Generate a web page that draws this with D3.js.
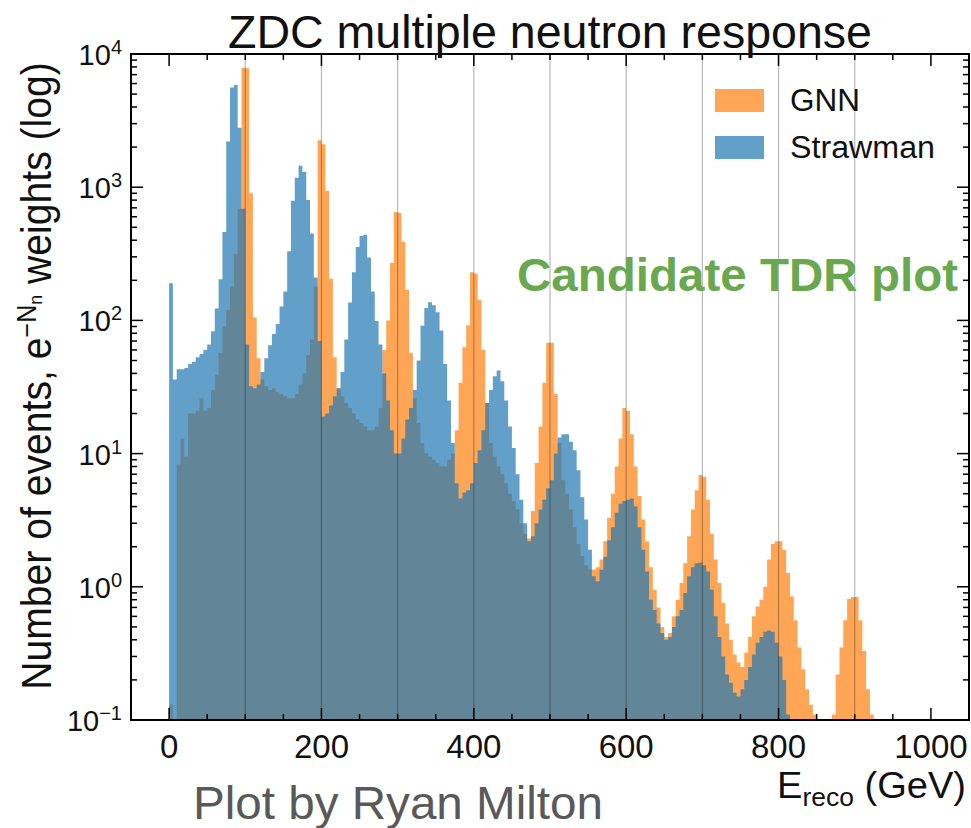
<!DOCTYPE html>
<html><head><meta charset="utf-8">
<script src="https://cdn.jsdelivr.net/npm/d3@7"></script>
<style>
body{margin:0;background:#fff}
svg{display:block}
text{font-family:"Liberation Sans", Arial, Helvetica, sans-serif}
</style>
</head><body>
<svg id="c" width="971" height="828"></svg>
<script>
// ---- data (5 GeV bins starting at 0 GeV) ----
const binStart = 0;
const binWidth = 5;
const strawman = [
190,36,43,43,44,47,49,53,56,60,
66,83,123,204,460,2200,5600,5850,2800,690,
66,32,31,33,41,52,65,79,94,127,
165,330,790,1180,1450,1300,800,450,210,70,
19,20,23,27,31,41,72,136,230,355,
430,440,296,165,99,66,40,25,15,10,
10,13,18,22,30,50,91,124,137,130,
115,84,47,25,12,6,4.6,5.1,5.3,6,
8.5,10.6,15,24,30,38,42,35,25,16,
11,7,4.5,3.0,2.2,2.4,3.0,3.8,4.5,5.5,
6.3,10,13.2,14,14,12.3,10.6,7.5,4.7,3.2,
1.9,1.2,1.1,1.34,1.68,2.24,2.8,3.6,4.2,4.4,
4.5,4.6,4.0,2.8,1.9,1.3,0.8,0.67,0.53,0.45,
0.40,0.42,0.5,0.6,0.67,0.9,1.2,1.4,1.5,1.52,
1.45,1.3,0.95,0.6,0.42,0.3,0.22,0.19,0.16,0.15,
0.17,0.2,0.25,0.31,0.38,0.42,0.46,0.47,0.46,0.38,
0.3,0.2,0.11,0,0,0,0,0,0,0,
0,0,0,0,0,0,0,0,0,0,
0,0,0,0,0,0,0,0,0,0,
0,0,0,0,0,0,0,0,0,0
];
const gnn = [
0.13,0,8.3,13,9.5,20,20,21,26,21,
22,30,39,57,90,120,180,315,690,7900,
7800,900,105,52,36,32,30,31,29,28,
27,26,26,28,33,40,55,72,180,2250,
2100,940,205,53,31,27,24,22,20,18,
17,16,15,15,16,22,60,100,270,650,
640,390,170,57,26,17,12,10,9.5,9,
8.5,8,8,9,10,15,34,63,92,230,
225,142,60,24,12,9.5,8,7,6,5,
4.4,3.8,3.0,2.5,2.3,3.7,8.5,16,34,68,
68,28,12,6.3,5,3.8,2.8,2.1,1.7,1.45,
1.35,1.35,1.4,1.6,2.2,3.3,5,8,13,22,
21,14,8,4.8,3.2,2.2,1.4,0.95,0.7,0.5,
0.42,0.45,0.6,0.8,1.07,1.5,2.4,3.8,5.3,6.9,
6.7,4.5,2.5,1.6,1.07,0.76,0.53,0.40,0.31,0.27,
0.25,0.32,0.42,0.6,0.71,0.8,1.0,1.6,2.1,2.2,
2.2,1.89,1.27,0.85,0.56,0.35,0.24,0.17,0.13,0.11,
0,0,0,0,0.11,0.22,0.35,0.56,0.81,0.84,
0.84,0.56,0.33,0.17,0.11,0,0,0,0,0,
0,0,0,0,0,0,0,0,0,0
];
const seriesNames = ["GNN", "Strawman"];
const xTickLabels = [0, 200, 400, 600, 800, 1000];
const xMinorTicks = [-50,0,50,100,150,200,250,300,350,400,450,500,550,600,650,700,750,800,850,900,950,1000,1050];
const yTickExponents = [-1, 0, 1, 2, 3, 4];
const gridLines = [100, 200, 300, 400, 500, 600, 700, 800, 900];

// ---- layout ----
const L = 131, R = 969, T = 54, B = 720;
const svg = d3.select("#c");
const x = d3.scaleLinear().domain([-50, 1050]).range([L, R]);
const y = d3.scaleLog().domain([0.1, 1e4]).range([B, T]);
const colOrange = "rgb(255,127,14)", colBlue = "rgb(31,119,180)", alpha = 0.7;

svg.append("clipPath").attr("id","clip").append("rect")
  .attr("x",L).attr("y",T).attr("width",R-L).attr("height",B-T);

function histPath(vals){
  const pts = vals.map((v,i)=>({e: binStart + i*binWidth, v}));
  pts.push({e: binStart + vals.length*binWidth, v: 0});
  return d3.area().curve(d3.curveStepAfter)
    .x(d=>x(d.e)).y0(y(0.1))
    .y1(d=> d.v > 0.1 ? y(d.v) : y(0.1))(pts);
}
const g = svg.append("g").attr("clip-path","url(#clip)");
g.append("path").attr("d", histPath(gnn)).attr("fill", colOrange).attr("fill-opacity", alpha);
g.append("path").attr("d", histPath(strawman)).attr("fill", colBlue).attr("fill-opacity", alpha);

// vertical grid lines
g.selectAll("line.grid").data(gridLines).join("line").attr("class","grid")
  .attr("x1",d=>x(d)).attr("x2",d=>x(d)).attr("y1",T).attr("y2",B)
  .attr("stroke","#000").attr("stroke-opacity",0.28).attr("stroke-width",1.2);

// ticks
const tk = svg.append("g").attr("stroke","#000").attr("stroke-width",1.5);
const majLen = 12, minLen = 6;
xMinorTicks.forEach(v=>{
  const len = xTickLabels.includes(v) ? majLen : minLen;
  tk.append("line").attr("x1",x(v)).attr("x2",x(v)).attr("y1",B).attr("y2",B-len);
  tk.append("line").attr("x1",x(v)).attr("x2",x(v)).attr("y1",T).attr("y2",T+len);
});
yTickExponents.forEach(e=>{
  const v = Math.pow(10,e);
  tk.append("line").attr("x1",L).attr("x2",L+majLen).attr("y1",y(v)).attr("y2",y(v));
  tk.append("line").attr("x1",R).attr("x2",R-majLen).attr("y1",y(v)).attr("y2",y(v));
  if (e < 4) for (let k=2;k<10;k++){
    const yy = y(k*v);
    tk.append("line").attr("x1",L).attr("x2",L+minLen).attr("y1",yy).attr("y2",yy);
    tk.append("line").attr("x1",R).attr("x2",R-minLen).attr("y1",yy).attr("y2",yy);
  }
});

// frame
svg.append("rect").attr("x",L).attr("y",T).attr("width",R-L).attr("height",B-T)
  .attr("fill","none").attr("stroke","#000").attr("stroke-width",2);

// helper: squeeze/stretch a text horizontally (in its own direction) to a target length
function fit(sel, target){
  const w = sel.node().getComputedTextLength();
  return w > 0 ? target / w : 1;
}

// x tick labels
svg.selectAll("text.xl").data(xTickLabels).join("text").attr("class","xl")
  .attr("x",d=>x(d)).attr("y",758).attr("text-anchor","middle")
  .attr("font-size",33).attr("fill","#111").text(d=>d);

// y tick labels
yTickExponents.forEach(e=>{
  const t = svg.append("text").attr("x",122).attr("y",y(Math.pow(10,e))+11)
    .attr("text-anchor","end").attr("font-size",29).attr("fill","#111");
  t.append("tspan").text("10");
  t.append("tspan").attr("dy",-11).attr("font-size",20).text(e<0 ? "\u2212"+Math.abs(e) : e);
});

// title
svg.append("text").attr("x",550).attr("y",48).attr("text-anchor","middle")
  .attr("font-size",46).attr("fill","#111")
  .attr("textLength",644).attr("lengthAdjust","spacingAndGlyphs")
  .text("ZDC multiple neutron response");

// y axis title
const yt = svg.append("text").attr("text-anchor","middle").attr("font-size",42).attr("fill","#111");
yt.append("tspan").text("Number of events, e");
yt.append("tspan").attr("dy",-15).attr("font-size",27).text("\u2212N");
yt.append("tspan").attr("dy",6).attr("font-size",19).text("n");
yt.append("tspan").attr("dy",9).attr("font-size",42).text(" weights (log)");
const syt = fit(yt, 628);
yt.attr("transform",`translate(51,376) rotate(-90) scale(${syt},1)`);

// x axis title
const xt = svg.append("text").attr("text-anchor","end").attr("font-size",36).attr("fill","#111");
xt.append("tspan").text("E");
xt.append("tspan").attr("dy",8).attr("font-size",25).text("reco");
xt.append("tspan").attr("dy",-8).attr("font-size",36).text(" (GeV)");
const sxt = fit(xt, 189);
xt.attr("transform",`translate(966,798) scale(${sxt},1)`);

// legend
const lg = svg.append("g");
[[colOrange, seriesNames[0], 89, 70],[colBlue, seriesNames[1], 136, 145]].forEach(([c,n,yy,w])=>{
  lg.append("rect").attr("x",715).attr("y",yy).attr("width",49).attr("height",23)
    .attr("fill",c).attr("fill-opacity",alpha);
  lg.append("text").attr("x",790).attr("y",yy+22).attr("font-size",31).attr("fill","#111")
    .attr("textLength",w).attr("lengthAdjust","spacingAndGlyphs").text(n);
});

// annotations
svg.append("text").attr("x",517).attr("y",291).attr("font-size",46).attr("font-weight","bold")
  .attr("fill","#6aa84f").attr("textLength",441).attr("lengthAdjust","spacingAndGlyphs")
  .text("Candidate TDR plot");
svg.append("text").attr("x",193).attr("y",819).attr("font-size",47)
  .attr("fill","#595959").attr("textLength",410).attr("lengthAdjust","spacingAndGlyphs")
  .text("Plot by Ryan Milton");
</script>
</body></html>
